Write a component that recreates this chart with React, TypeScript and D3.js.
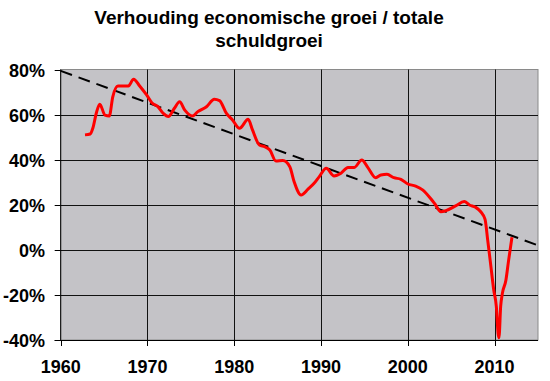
import React from "react";
import * as d3 from "d3";

const title1 = "Verhouding economische groei / totale";
const title2 = "schuldgroei";

const years = [
  1962.8, 1963.4, 1963.7, 1964.1, 1964.5, 1965.1, 1965.6, 1966.0, 1966.6, 1967.8,
  1968.4, 1969.1, 1969.9, 1970.5, 1971.2, 1971.8, 1972.4, 1973.1, 1973.7, 1974.3,
  1975.2, 1975.8, 1976.8, 1977.7, 1978.3, 1979.1, 1979.8, 1980.6, 1981.6, 1982.1,
  1982.9, 1983.5, 1984.1, 1984.8, 1985.6, 1986.4, 1986.9, 1987.7, 1988.5, 1989.2,
  1989.8, 1990.6, 1991.5, 1992.3, 1993.1, 1993.8, 1994.7, 1995.4, 1996.3, 1996.9,
  1997.6, 1998.4, 1999.2, 2000.0, 2000.9, 2001.7, 2002.6, 2003.2, 2003.8, 2004.4,
  2005.5, 2006.5, 2007.1, 2007.8, 2008.4, 2008.9, 2009.2, 2009.5, 2009.9, 2010.2,
  2010.4, 2010.5, 2010.7, 2010.9, 2011.3, 2011.6, 2012.0,
];
const ratios = [
  51.0, 51.4, 53.9, 60.6, 64.6, 59.8, 59.4, 67.9, 72.7, 72.7,
  75.7, 72.7, 68.7, 65.3, 63.5, 60.6, 59.1, 62.8, 65.7, 62.0,
  59.4, 61.3, 63.5, 66.8, 66.2, 60.5, 57.6, 53.9, 57.9, 53.2,
  46.5, 45.8, 44.3, 39.4, 39.6, 36.9, 30.2, 24.3, 26.9, 29.5,
  32.5, 36.2, 32.8, 34.0, 36.5, 36.5, 39.9, 36.5, 32.0, 33.2,
  33.5, 32.0, 31.3, 29.2, 28.3, 26.6, 22.9, 19.9, 16.9, 17.4,
  19.5, 21.4, 19.9, 18.9, 16.9, 13.5, 4.4, -5.0, -17.8, -25.2,
  -37.0, -39.0, -25.0, -19.2, -13.5, -5.0, 5.6,
];
const trendYears = [1960, 2015];
const trendValues = [79.4, 2.0];
const xTicks = [1960, 1970, 1980, 1990, 2000, 2010];
const yTicks = [-40, -20, 0, 20, 40, 60, 80];

export default function App() {
  const W = 550, H = 381;
  const left = 60.7, right = 538, top = 69.5, bottom = 340;
  const x = d3.scaleLinear().domain([1960, 2015]).range([left, right]);
  const y = d3.scaleLinear().domain([-40, 80]).range([bottom, top]);

  const pts = years.map((yr, i) => [yr, ratios[i]] as [number, number]);
  const line = d3
    .line<[number, number]>()
    .x((d) => x(d[0]))
    .y((d) => y(d[1]))
    .curve(d3.curveMonotoneX);
  const trendPts = trendYears.map((yr, i) => [yr, trendValues[i]] as [number, number]);
  const tline = d3
    .line<[number, number]>()
    .x((d) => x(d[0]))
    .y((d) => y(d[1]));

  const font = "'Liberation Sans', Arial, sans-serif";

  return (
    <svg
      width={W}
      height={H}
      style={{ position: "absolute", left: 0, top: 0, background: "#fff" }}
    >
      <text x={269} y={24} textAnchor="middle" fontFamily={font} fontWeight="bold" fontSize={19}>
        {title1}
      </text>
      <text x={269} y={47} textAnchor="middle" fontFamily={font} fontWeight="bold" fontSize={19}>
        {title2}
      </text>
      <rect x={left} y={top} width={right - left} height={bottom - top} fill="#C4C3C7" stroke="#8a8a8a" strokeWidth={1} />
      {yTicks
        .filter((t) => t > -40 && t < 80)
        .map((t) => (
          <line key={"gy" + t} x1={left} x2={right} y1={Math.round(y(t)) + 0.5} y2={Math.round(y(t)) + 0.5} stroke="#111" strokeWidth={1} />
        ))}
      {xTicks
        .filter((t) => t > 1960)
        .map((t) => (
          <line key={"gx" + t} x1={Math.round(x(t)) + 0.5} x2={Math.round(x(t)) + 0.5} y1={top} y2={bottom} stroke="#111" strokeWidth={1} />
        ))}
      <path d={tline(trendPts) || ""} fill="none" stroke="#000" strokeWidth={2} strokeDasharray="12,7" />
      <path d={line(pts) || ""} fill="none" stroke="#FF0000" strokeWidth={3} strokeLinejoin="round" />
      {/* axes */}
      <line x1={left} x2={left} y1={top} y2={bottom} stroke="#000" strokeWidth={1} />
      <line x1={left - 6} x2={right} y1={bottom + 0.5} y2={bottom + 0.5} stroke="#000" strokeWidth={1} />
      {yTicks.map((t) => (
        <g key={"yt" + t}>
          <line x1={left - 6} x2={left} y1={Math.round(y(t)) + 0.5} y2={Math.round(y(t)) + 0.5} stroke="#000" />
          <text x={45} y={y(t) + 7} textAnchor="end" fontFamily={font} fontWeight="bold" fontSize={18}>
            {t + "%"}
          </text>
        </g>
      ))}
      {xTicks.map((t) => (
        <g key={"xt" + t}>
          <line x1={Math.round(x(t)) + 0.5} x2={Math.round(x(t)) + 0.5} y1={bottom} y2={bottom + 6} stroke="#000" />
          <text x={x(t)} y={373} textAnchor="middle" fontFamily={font} fontWeight="bold" fontSize={18}>
            {String(t)}
          </text>
        </g>
      ))}
    </svg>
  );
}
